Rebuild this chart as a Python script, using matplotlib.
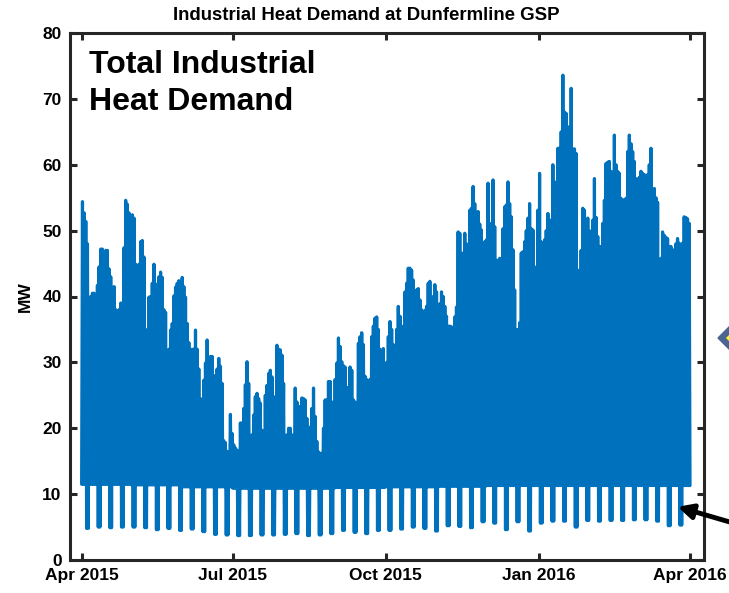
import numpy as np
import pandas as pd
import matplotlib
matplotlib.use("Agg")
import matplotlib.pyplot as plt
import matplotlib.dates as mdates
from matplotlib.patches import Polygon, FancyArrowPatch

plt.rcParams['font.family'] = ['Liberation Sans', 'DejaVu Sans']
plt.rcParams['font.weight'] = 'bold'

# daily peak demand in MW (one value per day)
peak_apr15 = [54.4, 52.7, 51.4, 48, 39, 40, 40.5, 40.5, 40, 41.7,
              44.5, 47.2, 47.2, 44.2, 47, 47, 44.2, 43, 41, 41.5,
              38, 36, 38, 39, 39, 47.4, 54.6, 54, 52.7, 52]
peak_may15 = [52.4, 51.9, 44.9, 42.5, 44.9, 48.3, 48.5, 46, 35, 33,
              39.9, 40, 42, 44.9, 41.9, 40, 43, 43.7, 42.9, 38,
              37.6, 29.5, 32, 34.9, 35.9, 40.1, 41.4, 42, 42.4, 41.6, 42.9]
peak_jun15 = [41.5, 39.9, 35.9, 33, 31.6, 32, 32, 34.9, 32, 29,
              24.5, 24.3, 27.3, 29.9, 33.4, 29.4, 30.9, 30.9, 28, 26.3,
              29, 30.6, 29.4, 26.8, 18.1, 17.8, 16.5, 15, 22.1, 19.2]
peak_jul15 = [17.5, 17, 16.7, 16.4, 20.8, 20.8, 23, 26.6, 30.1, 26.8,
              17.3, 19, 22, 24.8, 25.3, 24.5, 23.8, 19.7, 14.3, 25,
              26.5, 28.3, 28.8, 27.8, 24.8, 19.2, 32.6, 32, 31.9, 31.1, 26.8]
peak_aug15 = [18.2, 19, 20, 20, 19, 18.2, 26.1, 24, 23.3, 23.3,
              24.6, 24.5, 24.3, 21.5, 20.2, 19.2, 23, 26.1, 21.8, 18,
              16.4, 16.2, 16.2, 20, 24.3, 24.3, 27.1, 27.1, 24, 20, 27.4]
peak_sep15 = [29.9, 33.7, 32.4, 30.1, 29.5, 29.3, 26.2, 26.2, 29.3, 28.8,
              24.3, 24, 23.8, 32.9, 33.9, 34.5, 32.7, 27.9, 27.4, 22,
              27.4, 33.9, 35.5, 36.7, 36.9, 35, 32, 30.1, 32.1, 27.9]
peak_oct15 = [30, 33.9, 36.2, 35, 32.7, 32.4, 35, 38.5, 37, 35.5,
              28.9, 40.7, 42, 44.3, 44.3, 44, 42.5, 40, 41, 41.2,
              39.5, 38, 36.7, 37.9, 38.5, 42, 42.3, 33.7, 40, 41.8, 40.7]
peak_nov15 = [35, 38.9, 40.7, 40, 38.5, 37, 35.5, 35.5, 35.4, 33.5,
              36.9, 38.4, 49.8, 49.6, 43, 46.6, 49.6, 48, 43, 53.1,
              53.4, 56.7, 54.1, 51.1, 52.9, 51, 50.1, 43.5, 48.3, 48.6]
peak_dec15 = [57.2, 51.1, 50.6, 57.7, 50.6, 45.5, 45.5, 45.8, 44, 50.3,
              53.6, 53.9, 57.4, 54.1, 52.1, 47.1, 41, 34.9, 35, 36,
              46.6, 46.8, 48.3, 50, 51.9, 54.1, 50.3, 50.1, 44.5, 43.5, 53.1]
peak_jan16 = [58.7, 48.3, 43, 48.6, 50, 52.6, 51.6, 51.6, 60, 51.9,
              57.4, 62.5, 62.5, 65, 73.6, 68, 67.8, 63.7, 65.8, 71.6,
              62.4, 62.4, 61.7, 44, 41, 47, 53.4, 53.1, 51.6, 51.9, 50]
peak_feb16 = [49.3, 51.6, 57.9, 52, 49.1, 47.6, 47.6, 51.1, 54.6, 60.2,
              60.4, 60.5, 59, 58.7, 64.5, 60, 59, 58.7, 54.9, 54.7,
              54.6, 54.9, 62, 64.5, 63.2, 62, 60.5, 57.9, 57.6]
peak_mar16 = [58.1, 59, 58.7, 58.5, 55.6, 58.5, 60, 62.5, 55.6, 56.4,
              55, 54.3, 40, 45.8, 49.8, 49.3, 49, 48.8, 47.6, 47.6,
              45, 47.1, 48, 48.8, 48.1, 41, 48.1, 52.1, 52, 51.8, 51.1]

# weekday overnight base load per month, Apr 2015 .. Mar 2016 (MW)
base_month = [11.5, 11.4, 11.1, 10.9, 10.9, 11.0, 11.1, 11.2, 11.3, 11.3, 11.3, 11.3]

# weekend minimum, one per weekend starting Sat 4 Apr 2015 (MW)
weekend_low = [4.8, 5.0, 4.9, 5.0, 5.0, 4.9, 4.6, 4.8, 4.5, 4.7, 4.3,
               3.9, 3.8, 3.7, 3.7, 3.8, 3.8, 3.9, 4.0, 3.7, 3.8,
               4.0, 4.5, 4.2, 4.0, 4.5, 4.5, 4.7, 5.0, 4.8, 4.4,
               5.2, 5.1, 4.9, 5.8, 5.6, 4.6, 5.8, 4.4, 5.6, 5.9, 5.9,
               5.0, 6.0, 5.9, 6.0, 6.0, 6.1, 6.1, 5.9, 5.2, 5.3]

peaks = np.concatenate([peak_apr15, peak_may15, peak_jun15, peak_jul15,
                        peak_aug15, peak_sep15, peak_oct15, peak_nov15,
                        peak_dec15, peak_jan16, peak_feb16, peak_mar16])
days = pd.date_range("2015-04-01", periods=len(peaks), freq="D")

# overnight low for each day: weekday base or weekend minimum
month_pos = (days.year - 2015) * 12 + days.month - 4
lows = np.array([base_month[m] for m in month_pos])
is_weekend = days.dayofweek >= 5
day_no = np.arange(len(days))
lows[is_weekend] = np.array(weekend_low)[(day_no[is_weekend] - 3) // 7]

# series: midnight low, midday peak, for each day
t = []
y = []
for d, lo, pk in zip(days, lows, peaks):
    t += [d, d + pd.Timedelta(hours=12)]
    y += [lo, pk]
t.append(days[-1] + pd.Timedelta(days=1))
y.append(base_month[-1])

fig = plt.figure(figsize=(7.29, 5.93), dpi=100)
ax = fig.add_axes([70 / 729, 1 - 560 / 593, 634 / 729, 527 / 593])

ax.plot(t, y, color='#0072BD', lw=2.3, solid_joinstyle='round', solid_capstyle='round')

ax.set_xlim(pd.Timestamp("2015-03-25"), pd.Timestamp("2016-04-09 10:00"))
ax.set_ylim(0, 80)
ax.set_yticks(np.arange(0, 81, 10))
xt = pd.to_datetime(["2015-04-01", "2015-07-01", "2015-10-01", "2016-01-01", "2016-04-01"])
ax.set_xticks(xt)
ax.xaxis.set_major_formatter(mdates.DateFormatter('%b %Y'))

edge = '#262626'
for s in ax.spines.values():
    s.set_linewidth(2.2)
    s.set_color(edge)
ax.tick_params(direction='in', length=5, width=2.2, colors=edge, labelcolor='black',
               labelsize=12.5, top=True, right=True)
ax.tick_params(axis='x', pad=6)
ax.tick_params(axis='y', pad=6)
ax.set_ylabel('MW', fontsize=12.5, fontweight='bold', labelpad=7)

fig.text(366 / 729, 1 - 15 / 593, 'Industrial Heat Demand at Dunfermline GSP',
         ha='center', va='center', fontsize=13.4, fontweight='bold')
fig.text(89 / 729, 1 - 50 / 593, 'Total Industrial\nHeat Demand',
         ha='left', va='top', fontsize=23, fontweight='bold', linespacing=1.3)

# pieces of neighbouring drawing that are cut by the right edge
diamond = Polygon([(718 / 729, 1 - 338 / 593), (736 / 729, 1 - 320 / 593),
                   (754 / 729, 1 - 338 / 593), (736 / 729, 1 - 356 / 593)],
                  closed=True, transform=fig.transFigure, facecolor='#4a6591',
                  edgecolor='#4a6591', clip_on=False)
fig.add_artist(diamond)
inner = Polygon([(726 / 729, 1 - 338 / 593), (736 / 729, 1 - 328 / 593),
                 (746 / 729, 1 - 338 / 593), (736 / 729, 1 - 348 / 593)],
                closed=True, transform=fig.transFigure, facecolor='#ffff00',
                edgecolor='none', clip_on=False)
fig.add_artist(inner)
arrow = FancyArrowPatch((740 / 729, 1 - 525 / 593), (675 / 729, 1 - 506 / 593),
                        transform=fig.transFigure, arrowstyle='-|>',
                        mutation_scale=22, lw=3.5, color='black')
fig.add_artist(arrow)

fig.savefig('out.png', dpi=100)
